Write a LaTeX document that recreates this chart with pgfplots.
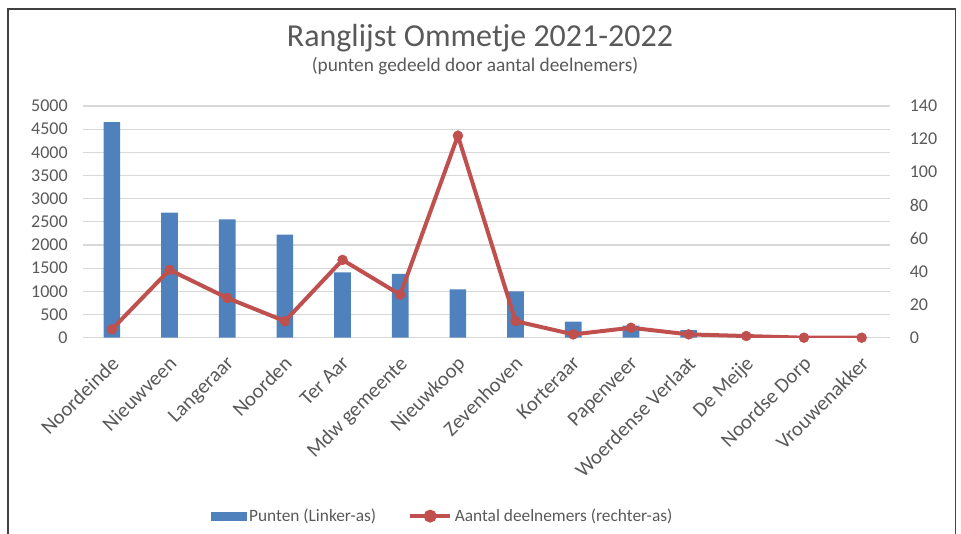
\documentclass[border=0pt]{standalone}
\usepackage{pgfplots}
\pgfplotsset{compat=1.18}
\usepackage{fontspec}
\setmainfont{Carlito}
\definecolor{barblue}{HTML}{4F81BD}
\definecolor{linered}{HTML}{C0504D}
\definecolor{txtgray}{HTML}{595959}
\definecolor{gridgray}{HTML}{D9D9D9}
\definecolor{framegray}{HTML}{404040}

\pgfplotsset{
  common/.style={
    at={(O)}, anchor=south west,
    scale only axis, width=605.6pt, height=173.8pt,
    xmin=-0.5, xmax=13.5,
    axis line style={draw=none},
    major tick length=0pt,
    tick label style={font=\fontsize{13.5}{16}\selectfont, text=txtgray},
    /pgf/number format/assume math mode=true,
    /pgf/number format/set thousands separator={},
  },
}

\begin{document}
\begin{tikzpicture}[x=0.75pt,y=0.75pt]
\useasboundingbox (0,0) rectangle (961,534);
\coordinate (O) at (83,196.3);
\draw[framegray, line width=1.1pt] (8,-10) -- (8,525) -- (955.5,525) -- (955.5,-10);

\node[text=txtgray, font=\fontsize{24}{28}\selectfont] at (480,496) {Ranglijst Ommetje 2021-2022};
\node[text=txtgray, font=\fontsize{14.5}{17}\selectfont] at (475,468) {(punten gedeeld door aantal deelnemers)};

% bars, left axis
\begin{axis}[common,
  ymin=0, ymax=5000, ytick={0,500,...,5000},
  ymajorgrids, grid style={gridgray, line width=0.9pt},
  yticklabel style={xshift=-8pt},
  xtick={0,...,13},
  xticklabels={Noordeinde, Nieuwveen, Langeraar, Noorden, Ter Aar, Mdw gemeente, Nieuwkoop, Zevenhoven, Korteraar, Papenveer, Woerdense Verlaat, De Meije, Noordse Dorp, Vrouwenakker},
  xticklabel style={rotate=45, anchor=north east, inner sep=2pt,
    xshift=-8pt, yshift=-6pt, font=\fontsize{15.5}{18}\selectfont},
]
\addplot[ybar, bar width=12.5pt, fill=barblue, draw=none] coordinates {
  (0,4650) (1,2700) (2,2555) (3,2225) (4,1410) (5,1375) (6,1045)
  (7,1000) (8,345) (9,260) (10,165) (11,10) (12,0) (13,0)
};
\end{axis}

% line, right axis
\begin{axis}[common,
  axis y line*=right, axis x line=none,
  ymin=0, ymax=140, ytick={0,20,...,140},
  yticklabel style={anchor=west, xshift=11pt},
  xtick=\empty,
  legend style={at={(0.1536,-0.77)}, anchor=west, draw=none, fill=none,
    legend columns=-1, font=\fontsize{13}{16}\selectfont, text=txtgray,
    /tikz/every even column/.append style={column sep=22pt}},
  legend cell align=left,
]
\addlegendimage{legend image code/.code={\fill[barblue] (0pt,-2.8pt) rectangle (26pt,2.8pt);}}
\addlegendentry{Punten (Linker-as)}
\addplot[linered, line width=3pt, mark=*, mark size=3.7pt,
  mark options={line width=0.4pt},
  legend image code/.code={\draw[linered, line width=3pt] (0pt,0pt) -- (30pt,0pt);
    \fill[linered] (15pt,0pt) circle (3.3pt);}] coordinates {
  (0,5) (1,41) (2,24) (3,10) (4,47) (5,26) (6,122)
  (7,10) (8,2) (9,6) (10,2) (11,1) (12,0) (13,0)
};
\addlegendentry{Aantal deelnemers (rechter-as)}
\end{axis}
\end{tikzpicture}
\end{document}
